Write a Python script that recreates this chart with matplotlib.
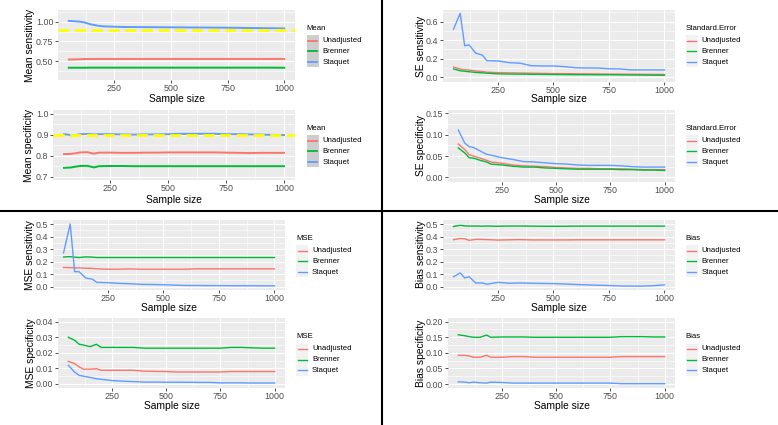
import matplotlib
matplotlib.use("Agg")
import matplotlib.pyplot as plt
from matplotlib.lines import Line2D
from matplotlib.patches import Rectangle

plt.rcParams['font.family'] = ['Liberation Sans', 'DejaVu Sans']

# ---------------- data ----------------
sample_size = [50, 80, 100, 120, 150, 180, 200, 250, 300, 350, 400, 450, 500,
               550, 600, 650, 700, 750, 800, 850, 900, 950, 1000]
methods = ["Unadjusted", "Brenner", "Staquet"]
colors = ["#F8766D", "#00BA38", "#619CFF"]

mean_sens_unadj = [0.520, 0.521, 0.523, 0.526, 0.527, 0.527, 0.527, 0.527, 0.527, 0.527, 0.527, 0.527,
                   0.527, 0.527, 0.527, 0.527, 0.527, 0.527, 0.527, 0.527, 0.527, 0.527, 0.527]
mean_sens_brenner = [0.415, 0.415, 0.415, 0.415, 0.416, 0.416, 0.416, 0.416, 0.416, 0.416, 0.416, 0.416,
                     0.416, 0.416, 0.416, 0.416, 0.416, 0.416, 0.416, 0.416, 0.416, 0.416, 0.415]
mean_sens_staquet = [1.010, 1.005, 1.000, 0.990, 0.965, 0.948, 0.942, 0.936, 0.933, 0.932, 0.931, 0.930,
                     0.929, 0.928, 0.927, 0.926, 0.925, 0.924, 0.922, 0.920, 0.918, 0.917, 0.915]

mean_spec_unadj = [0.808, 0.809, 0.812, 0.816, 0.817, 0.810, 0.815, 0.815, 0.814, 0.814, 0.815, 0.815,
                   0.816, 0.816, 0.816, 0.816, 0.816, 0.815, 0.814, 0.813, 0.814, 0.814, 0.814]
mean_spec_brenner = [0.742, 0.744, 0.748, 0.751, 0.752, 0.744, 0.750, 0.751, 0.751, 0.750, 0.750, 0.750,
                     0.750, 0.750, 0.750, 0.750, 0.750, 0.750, 0.750, 0.750, 0.750, 0.750, 0.750]
mean_spec_staquet = [0.903, 0.899, 0.899, 0.903, 0.904, 0.902, 0.903, 0.903, 0.902, 0.901, 0.902, 0.902,
                     0.903, 0.905, 0.905, 0.905, 0.905, 0.903, 0.903, 0.902, 0.901, 0.900, 0.899]
reference_value = 0.9

se_sens_unadj = [0.110, 0.090, 0.080, 0.078, 0.068, 0.062, 0.055, 0.050, 0.048, 0.046, 0.044, 0.042,
                 0.040, 0.039, 0.038, 0.037, 0.036, 0.035, 0.034, 0.033, 0.032, 0.031, 0.030]
se_sens_brenner = [0.090, 0.070, 0.065, 0.060, 0.052, 0.048, 0.044, 0.037, 0.035, 0.034, 0.032, 0.031,
                   0.030, 0.029, 0.028, 0.028, 0.027, 0.027, 0.026, 0.025, 0.024, 0.023, 0.022]
se_sens_staquet = [0.520, 0.690, 0.340, 0.350, 0.260, 0.240, 0.180, 0.176, 0.158, 0.152, 0.125, 0.122,
                   0.122, 0.115, 0.103, 0.100, 0.100, 0.092, 0.090, 0.080, 0.080, 0.080, 0.079]

se_spec_unadj = [0.078, 0.065, 0.053, 0.050, 0.045, 0.040, 0.036, 0.033, 0.029, 0.027, 0.026, 0.025,
                 0.023, 0.022, 0.021, 0.021, 0.020, 0.020, 0.020, 0.019, 0.018, 0.018, 0.018]
se_spec_brenner = [0.069, 0.057, 0.046, 0.045, 0.040, 0.036, 0.031, 0.029, 0.026, 0.024, 0.024, 0.022,
                   0.021, 0.020, 0.019, 0.019, 0.019, 0.019, 0.018, 0.018, 0.017, 0.017, 0.016]
se_spec_staquet = [0.111, 0.080, 0.072, 0.070, 0.062, 0.054, 0.052, 0.046, 0.042, 0.037, 0.036, 0.034,
                   0.032, 0.031, 0.029, 0.028, 0.028, 0.028, 0.027, 0.025, 0.024, 0.024, 0.024]

mse_sens_unadj = [0.153, 0.152, 0.150, 0.150, 0.148, 0.146, 0.143, 0.140, 0.140, 0.142, 0.140, 0.140,
                  0.140, 0.140, 0.140, 0.143, 0.143, 0.143, 0.143, 0.143, 0.143, 0.143, 0.143]
mse_sens_brenner = [0.237, 0.240, 0.236, 0.233, 0.238, 0.236, 0.233, 0.233, 0.233, 0.233, 0.233, 0.233,
                    0.233, 0.233, 0.233, 0.233, 0.233, 0.233, 0.233, 0.233, 0.233, 0.233, 0.233]
mse_sens_staquet = [0.270, 0.500, 0.120, 0.120, 0.070, 0.060, 0.035, 0.032, 0.027, 0.024, 0.019, 0.018,
                    0.016, 0.013, 0.010, 0.010, 0.009, 0.009, 0.008, 0.008, 0.008, 0.007, 0.007]

mse_spec_unadj = [0.0145, 0.0130, 0.0110, 0.0095, 0.0095, 0.0098, 0.0088, 0.0088, 0.0088, 0.0088, 0.0082,
                  0.0081, 0.0080, 0.0077, 0.0077, 0.0077, 0.0077, 0.0077, 0.0080, 0.0080, 0.0080, 0.0080, 0.0080]
mse_spec_brenner = [0.0300, 0.0280, 0.0255, 0.0250, 0.0240, 0.0255, 0.0235, 0.0235, 0.0235, 0.0235, 0.0230,
                    0.0230, 0.0230, 0.0230, 0.0230, 0.0230, 0.0230, 0.0230, 0.0235, 0.0235, 0.0232, 0.0230, 0.0230]
mse_spec_staquet = [0.0120, 0.0075, 0.0055, 0.0050, 0.0042, 0.0033, 0.0030, 0.0022, 0.0018, 0.0015, 0.0012,
                    0.0012, 0.0011, 0.0011, 0.0011, 0.0010, 0.0010, 0.0007, 0.0007, 0.0007, 0.0006, 0.0006, 0.0006]

bias_sens_unadj = [0.375, 0.385, 0.382, 0.370, 0.378, 0.377, 0.376, 0.372, 0.374, 0.376, 0.373, 0.373,
                   0.373, 0.373, 0.374, 0.374, 0.374, 0.374, 0.374, 0.374, 0.374, 0.374, 0.374]
bias_sens_brenner = [0.480, 0.490, 0.485, 0.484, 0.484, 0.483, 0.484, 0.482, 0.484, 0.484, 0.483, 0.482,
                     0.482, 0.482, 0.483, 0.483, 0.483, 0.483, 0.483, 0.483, 0.483, 0.483, 0.483]
bias_sens_staquet = [0.080, 0.110, 0.070, 0.080, 0.030, 0.030, 0.020, 0.035, 0.028, 0.030, 0.028, 0.026,
                     0.025, 0.022, 0.018, 0.015, 0.012, 0.010, 0.006, 0.005, 0.005, 0.008, 0.015]

bias_spec_unadj = [0.092, 0.092, 0.090, 0.086, 0.086, 0.092, 0.086, 0.086, 0.088, 0.088, 0.086, 0.086,
                   0.086, 0.086, 0.086, 0.086, 0.086, 0.086, 0.088, 0.088, 0.088, 0.088, 0.088]
bias_spec_brenner = [0.158, 0.155, 0.152, 0.150, 0.150, 0.157, 0.150, 0.151, 0.151, 0.151, 0.150, 0.150,
                     0.150, 0.150, 0.150, 0.150, 0.150, 0.150, 0.152, 0.152, 0.152, 0.151, 0.151]
bias_spec_staquet = [0.007, 0.006, 0.004, 0.006, 0.004, 0.003, 0.006, 0.005, 0.003, 0.003, 0.003, 0.003,
                     0.003, 0.003, 0.003, 0.003, 0.003, 0.003, 0.001, 0.001, 0.001, 0.001, 0.001]

x_ticks = [250, 500, 750, 1000]
x_tick_labels = ["250", "500", "750", "1000"]

# ---------------- figure ----------------
W, H = 778, 425
fig = plt.figure(figsize=(W / 100, H / 100), dpi=100)
fig.patch.set_facecolor("white")

TICK_FS = 6.4
TITLE_FS = 7.4
LEG_FS = 5.6


def fx(px):
    return px / W


def fy(py):
    return 1 - py / H


def panel(box, series, ylabel, ylim, yticks, ylabels, lw, ylab_x, xlab_y,
          leg_pos, leg_title, smooth=False):
    l, t, r, b = box
    ax = fig.add_axes([fx(l), fy(b), (r - l) / W, (b - t) / H])
    ax.set_facecolor("#EBEBEB")
    for s in ax.spines.values():
        s.set_visible(False)
    xmin, xmax = min(sample_size), max(sample_size)
    pad = 0.05 * (xmax - xmin)
    ax.set_xlim(xmin - pad, xmax + pad)
    ax.set_ylim(*ylim)
    ax.set_xticks(x_ticks, x_tick_labels)
    ax.set_yticks(yticks, ylabels)
    xminor = [125, 375, 625, 875]
    step = yticks[1] - yticks[0]
    yminor = [v + step / 2 for v in [yticks[0] - step] + list(yticks)]
    yminor = [v for v in yminor if ylim[0] < v < ylim[1]]
    ax.set_xticks(xminor, minor=True)
    ax.set_yticks(yminor, minor=True)
    ax.grid(which="major", color="white", lw=0.8)
    ax.grid(which="minor", color="white", lw=0.4)
    ax.set_axisbelow(True)
    ax.tick_params(which="major", length=2, width=0.6, color="#333333",
                   labelsize=TICK_FS, labelcolor="#4D4D4D", pad=1.2)
    ax.tick_params(which="minor", length=0)
    for vals, c in zip(series, colors):
        ax.plot(sample_size, vals, color=c, lw=lw, solid_joinstyle="round", zorder=3)
    if smooth:
        ax.axhline(reference_value, color="#FFFF00", lw=2.0, ls=(0, (4, 2)), zorder=4)
    ax.set_ylabel(ylabel, fontsize=TITLE_FS)
    ax.yaxis.label.set_va("center")
    ax.yaxis.set_label_coords((ylab_x - l) / (r - l), 0.5)
    ax.set_xlabel("Sample size", fontsize=TITLE_FS)
    ax.xaxis.label.set_va("center")
    ax.xaxis.set_label_coords(0.5, (b - xlab_y) / (b - t))

    # legend
    tx, ty = leg_pos
    fig.text(fx(tx), fy(ty), leg_title, fontsize=LEG_FS, ha="left", va="center")
    rows = [ty + 12.3, ty + 23.0, ty + 33.7]
    keybg = "#CDCDCD" if smooth else "#F2F2F2"
    fig.add_artist(Rectangle((fx(tx), fy(rows[-1] + 5.35)), 12 / W, 32.1 / H,
                             transform=fig.transFigure, facecolor=keybg,
                             edgecolor="none"))
    for name, c, ry in zip(methods, colors, rows):
        fig.add_artist(Line2D([fx(tx + 1.5), fx(tx + 10.5)], [fy(ry), fy(ry)],
                              transform=fig.transFigure, color=c,
                              lw=1.3 if smooth else 1.0))
        fig.text(fx(tx + 16), fy(ry), name, fontsize=LEG_FS, ha="left", va="center")
    return ax


# top-left quadrant
panel((58, 10, 295, 80), [mean_sens_unadj, mean_sens_brenner, mean_sens_staquet],
      "Mean sensitivity", (0.259, 1.149), [0.5, 0.75, 1.0], ["0.50", "0.75", "1.00"],
      1.4, 30, 99.5, (306.7, 28.3), "Mean", smooth=True)
panel((53, 110, 295, 180), [mean_spec_unadj, mean_spec_brenner, mean_spec_staquet],
      "Mean specificity", (0.684, 1.019), [0.7, 0.8, 0.9, 1.0], ["0.7", "0.8", "0.9", "1.0"],
      1.4, 29.5, 200, (306.7, 128.3), "Mean", smooth=True)

# top-right quadrant
panel((443, 10, 675, 82), [se_sens_unadj, se_sens_brenner, se_sens_staquet],
      "SE sensitivity", (-0.051, 0.726), [0.0, 0.2, 0.4, 0.6], ["0.0", "0.2", "0.4", "0.6"],
      1.0, 421, 99.5, (685.7, 28.3), "Standard.Error")
panel((448, 110, 675, 182), [se_spec_unadj, se_spec_brenner, se_spec_staquet],
      "SE specificity", (-0.011, 0.158), [0.0, 0.05, 0.10, 0.15], ["0.00", "0.05", "0.10", "0.15"],
      1.0, 421, 200, (685.7, 128.3), "Standard.Error")

# bottom-left quadrant
panel((53, 220, 285, 289.5), [mse_sens_unadj, mse_sens_brenner, mse_sens_staquet],
      "MSE sensitivity", (-0.022, 0.532), [0.0, 0.1, 0.2, 0.3, 0.4, 0.5],
      ["0.0", "0.1", "0.2", "0.3", "0.4", "0.5"],
      1.0, 30, 308, (296, 238.3), "MSE")
panel((58, 318, 285, 388), [mse_spec_unadj, mse_spec_brenner, mse_spec_staquet],
      "MSE specificity", (-0.0026, 0.0424), [0.0, 0.01, 0.02, 0.03, 0.04],
      ["0.00", "0.01", "0.02", "0.03", "0.04"],
      1.0, 30.5, 406, (296, 336.7), "MSE")

# bottom-right quadrant
panel((443, 220, 675, 289.5), [bias_sens_unadj, bias_sens_brenner, bias_sens_staquet],
      "Bias sensitivity", (-0.022, 0.532), [0.0, 0.1, 0.2, 0.3, 0.4, 0.5],
      ["0.0", "0.1", "0.2", "0.3", "0.4", "0.5"],
      1.0, 420.5, 308, (685.7, 238.3), "Bias")
panel((448, 318, 675, 388), [bias_spec_unadj, bias_spec_brenner, bias_spec_staquet],
      "Bias specificity", (-0.0128, 0.2119), [0.0, 0.05, 0.10, 0.15, 0.20],
      ["0.00", "0.05", "0.10", "0.15", "0.20"],
      1.0, 421, 406, (685.7, 336.7), "Bias")

# quadrant separators
fig.add_artist(Line2D([fx(381.5), fx(381.5)], [0, 1], transform=fig.transFigure,
                      color="black", lw=1.5))
fig.add_artist(Line2D([0, 1], [fy(211), fy(211)], transform=fig.transFigure,
                      color="black", lw=1.5))

fig.savefig("out.png", dpi=100, facecolor="white")
